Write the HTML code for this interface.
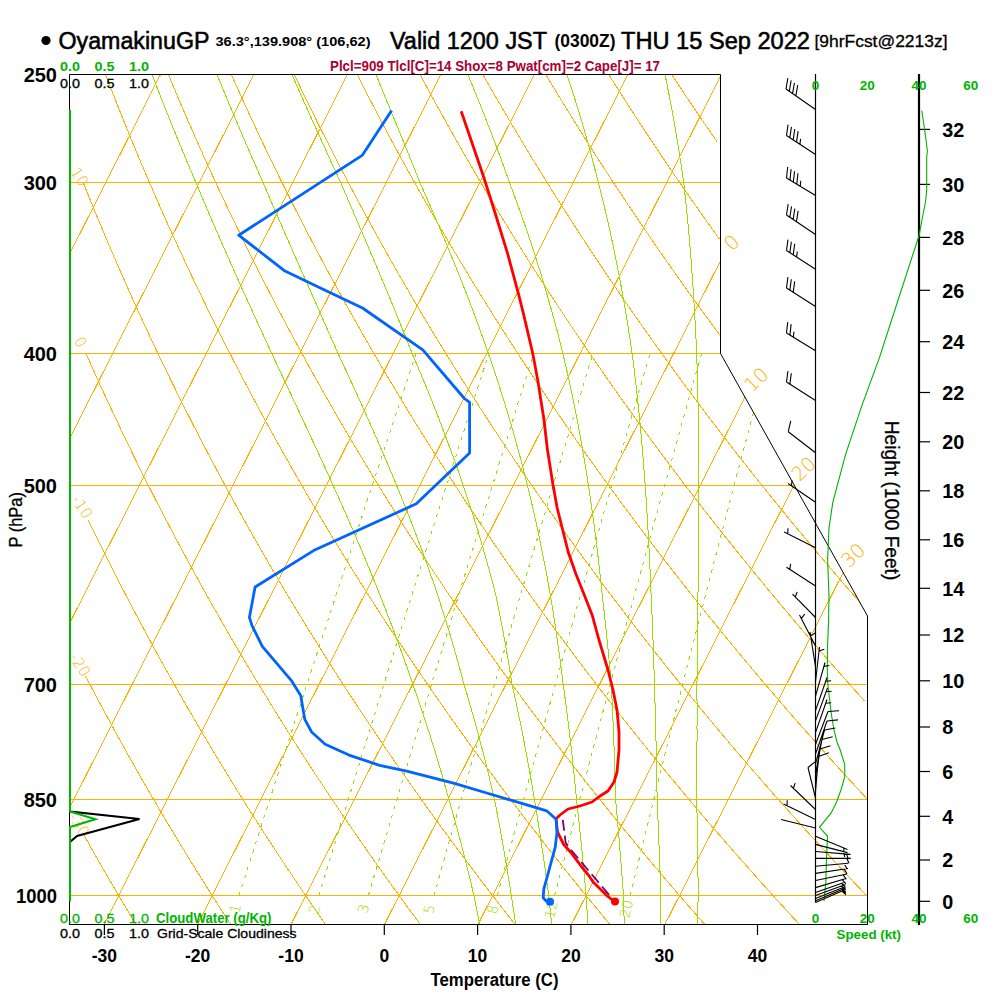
<!DOCTYPE html><html><head><meta charset="utf-8"><style>html,body{margin:0;padding:0;background:#fff;}svg{display:block}</style></head><body>
<svg width="1000" height="1000" viewBox="0 0 1000 1000" font-family="Liberation Sans, Arial, sans-serif">
<rect width="1000" height="1000" fill="#fff"/>
<defs><clipPath id="c"><polygon points="69.5,74.5 720.5,74.5 720.5,353.5 867.5,616.0 867.5,924.5 69.5,924.5"/></clipPath></defs>
<g clip-path="url(#c)" stroke="#FFB000" stroke-width="1" fill="none" shape-rendering="crispEdges"><line x1="69.5" y1="182.5" x2="720.5" y2="182.5"/><line x1="69.5" y1="353.5" x2="720.5" y2="353.5"/><line x1="69.5" y1="485.5" x2="794.42" y2="485.5"/><line x1="69.5" y1="684.5" x2="867.5" y2="684.5"/><line x1="69.5" y1="799.5" x2="867.5" y2="799.5"/><line x1="69.5" y1="895.5" x2="867.5" y2="895.5"/><line x1="-269.88" y1="924.5" x2="160.47" y2="74.5"/><line x1="-176.4" y1="924.5" x2="253.95" y2="74.5"/><line x1="-82.92" y1="924.5" x2="347.43" y2="74.5"/><line x1="10.56" y1="924.5" x2="440.91" y2="74.5"/><line x1="104.04" y1="924.5" x2="534.39" y2="74.5"/><line x1="197.52" y1="924.5" x2="627.87" y2="74.5"/><line x1="291" y1="924.5" x2="721.35" y2="74.5"/><line x1="384.48" y1="924.5" x2="814.83" y2="74.5"/><line x1="477.96" y1="924.5" x2="908.31" y2="74.5"/><line x1="571.44" y1="924.5" x2="1001.79" y2="74.5"/><line x1="664.92" y1="924.5" x2="1095.27" y2="74.5"/><polyline points="135.96,924.46 132.54,918.79 129.1,913.07 125.65,907.29 122.18,901.46 118.69,895.56 115.18,889.61 111.66,883.6 108.13,877.53 104.57,871.39 101,865.19 97.41,858.92 93.81,852.59 90.18,846.18 86.54,839.71 82.88,833.17"/><polyline points="230.76,924.46 227.07,918.79 223.37,913.07 219.66,907.29 215.92,901.46 212.17,895.56 208.4,889.61 204.61,883.6 200.8,877.53 196.97,871.39 193.12,865.19 189.25,858.92 185.37,852.59 181.46,846.18 177.53,839.71 173.59,833.17 169.62,826.55 165.63,819.86 161.62,813.09 157.58,806.25 153.53,799.32 149.45,792.31 145.35,785.22 141.23,778.04 137.09,770.77 132.92,763.42 128.72,755.97 124.5,748.42 120.26,740.78 115.99,733.04 111.7,725.2 107.38,717.25 103.04,709.19 98.67,701.02 94.27,692.74 89.84,684.34 85.39,675.82"/><polyline points="325.55,924.46 321.61,918.79 317.65,913.07 313.67,907.29 309.67,901.46 305.65,895.56 301.61,889.61 297.55,883.6 293.47,877.53 289.36,871.39 285.24,865.19 281.1,858.92 276.93,852.59 272.74,846.18 268.53,839.71 264.29,833.17 260.04,826.55 255.76,819.86 251.45,813.09 247.12,806.25 242.77,799.32 238.39,792.31 233.99,785.22 229.56,778.04 225.1,770.77 220.62,763.42 216.11,755.97 211.58,748.42 207.02,740.78 202.43,733.04 197.81,725.2 193.16,717.25 188.48,709.19 183.77,701.02 179.04,692.74 174.27,684.34 169.47,675.82 164.64,667.17 159.77,658.4 154.88,649.5 149.94,640.45 144.98,631.27 139.98,621.95 134.95,612.47 129.88,602.84 124.77,593.05 119.62,583.1 114.44,572.98 109.22,562.68 103.96,552.2 98.66,541.52 93.32,530.66 87.94,519.59"/><polyline points="420.34,924.46 416.14,918.79 411.92,913.07 407.68,907.29 403.41,901.46 399.13,895.56 394.82,889.61 390.49,883.6 386.14,877.53 381.76,871.39 377.36,865.19 372.94,858.92 368.49,852.59 364.02,846.18 359.52,839.71 355,833.17 350.46,826.55 345.88,819.86 341.28,813.09 336.66,806.25 332.01,799.32 327.33,792.31 322.62,785.22 317.89,778.04 313.12,770.77 308.33,763.42 303.51,755.97 298.65,748.42 293.77,740.78 288.86,733.04 283.91,725.2 278.93,717.25 273.92,709.19 268.88,701.02 263.8,692.74 258.69,684.34 253.54,675.82 248.36,667.17 243.15,658.4 237.89,649.5 232.6,640.45 227.27,631.27 221.9,621.95 216.49,612.47 211.04,602.84 205.55,593.05 200.02,583.1 194.45,572.98 188.83,562.68 183.17,552.2 177.46,541.52 171.71,530.66 165.91,519.59 160.06,508.31 154.17,496.81 148.22,485.08 142.22,473.12 136.17,460.91 130.07,448.44 123.91,435.7 117.7,422.69 111.43,409.38 105.1,395.76 98.71,381.83 92.26,367.56 85.75,352.94"/><polyline points="515.13,924.46 510.67,918.79 506.19,913.07 501.69,907.29 497.16,901.46 492.61,895.56 488.03,889.61 483.43,883.6 478.81,877.53 474.16,871.39 469.48,865.19 464.78,858.92 460.05,852.59 455.3,846.18 450.52,839.71 445.71,833.17 440.87,826.55 436.01,819.86 431.12,813.09 426.2,806.25 421.25,799.32 416.27,792.31 411.25,785.22 406.21,778.04 401.14,770.77 396.03,763.42 390.9,755.97 385.73,748.42 380.52,740.78 375.29,733.04 370.01,725.2 364.71,717.25 359.36,709.19 353.98,701.02 348.57,692.74 343.11,684.34 337.62,675.82 332.09,667.17 326.52,658.4 320.91,649.5 315.25,640.45 309.56,631.27 303.82,621.95 298.04,612.47 292.21,602.84 286.34,593.05 280.42,583.1 274.46,572.98 268.44,562.68 262.38,552.2 256.27,541.52 250.1,530.66 243.88,519.59 237.61,508.31 231.29,496.81 224.9,485.08 218.47,473.12 211.97,460.91 205.41,448.44 198.79,435.7 192.11,422.69 185.36,409.38 178.55,395.76 171.67,381.83 164.72,367.56 157.7,352.94 150.61,337.94 143.44,322.56 136.2,306.77 128.88,290.54 121.48,273.86 114,256.69 106.43,239.01 98.78,220.79 91.04,201.99 83.21,182.57"/><polyline points="609.93,924.46 605.21,918.79 600.47,913.07 595.7,907.29 590.91,901.46 586.09,895.56 581.24,889.61 576.37,883.6 571.48,877.53 566.55,871.39 561.6,865.19 556.62,858.92 551.61,852.59 546.58,846.18 541.51,839.71 536.42,833.17 531.29,826.55 526.14,819.86 520.95,813.09 515.73,806.25 510.49,799.32 505.2,792.31 499.89,785.22 494.54,778.04 489.16,770.77 483.74,763.42 478.29,755.97 472.8,748.42 467.28,740.78 461.72,733.04 456.12,725.2 450.48,717.25 444.81,709.19 439.09,701.02 433.33,692.74 427.54,684.34 421.7,675.82 415.82,667.17 409.89,658.4 403.92,649.5 397.91,640.45 391.85,631.27 385.74,621.95 379.59,612.47 373.38,602.84 367.13,593.05 360.82,583.1 354.46,572.98 348.05,562.68 341.59,552.2 335.07,541.52 328.49,530.66 321.86,519.59 315.16,508.31 308.41,496.81 301.59,485.08 294.71,473.12 287.76,460.91 280.75,448.44 273.67,435.7 266.52,422.69 259.3,409.38 252,395.76 244.63,381.83 237.18,367.56 229.65,352.94 222.04,337.94 214.35,322.56 206.57,306.77 198.7,290.54 190.74,273.86 182.68,256.69 174.54,239.01 166.29,220.79 157.94,201.99 149.48,182.57 140.92,162.49 132.25,141.71 123.46,120.18 114.56,97.83 105.54,74.6"/><polyline points="704.72,924.46 699.74,918.79 694.74,913.07 689.71,907.29 684.65,901.46 679.57,895.56 674.46,889.61 669.32,883.6 664.15,877.53 658.95,871.39 653.72,865.19 648.46,858.92 643.18,852.59 637.86,846.18 632.51,839.71 627.13,833.17 621.71,826.55 616.27,819.86 610.79,813.09 605.27,806.25 599.72,799.32 594.14,792.31 588.52,785.22 582.87,778.04 577.18,770.77 571.45,763.42 565.68,755.97 559.88,748.42 554.03,740.78 548.15,733.04 542.22,725.2 536.26,717.25 530.25,709.19 524.2,701.02 518.1,692.74 511.96,684.34 505.78,675.82 499.54,667.17 493.27,658.4 486.94,649.5 480.56,640.45 474.14,631.27 467.66,621.95 461.13,612.47 454.55,602.84 447.91,593.05 441.22,583.1 434.47,572.98 427.66,562.68 420.8,552.2 413.87,541.52 406.88,530.66 399.83,519.59 392.71,508.31 385.53,496.81 378.28,485.08 370.95,473.12 363.56,460.91 356.09,448.44 348.55,435.7 340.93,422.69 333.23,409.38 325.45,395.76 317.59,381.83 309.64,367.56 301.6,352.94 293.47,337.94 285.25,322.56 276.93,306.77 268.51,290.54 259.99,273.86 251.37,256.69 242.64,239.01 233.79,220.79 224.83,201.99 215.76,182.57 206.56,162.49 197.23,141.71 187.77,120.18 178.18,97.83 168.45,74.6"/><polyline points="799.51,924.46 794.27,918.79 789.01,913.07 783.72,907.29 778.4,901.46 773.05,895.56 767.67,889.61 762.26,883.6 756.82,877.53 751.34,871.39 745.84,865.19 740.31,858.92 734.74,852.59 729.14,846.18 723.5,839.71 717.83,833.17 712.13,826.55 706.39,819.86 700.62,813.09 694.81,806.25 688.96,799.32 683.08,792.31 677.16,785.22 671.2,778.04 665.19,770.77 659.15,763.42 653.07,755.97 646.95,748.42 640.79,740.78 634.58,733.04 628.33,725.2 622.03,717.25 615.69,709.19 609.3,701.02 602.87,692.74 596.38,684.34 589.85,675.82 583.27,667.17 576.64,658.4 569.96,649.5 563.22,640.45 556.43,631.27 549.58,621.95 542.68,612.47 535.72,602.84 528.7,593.05 521.62,583.1 514.48,572.98 507.28,562.68 500.01,552.2 492.67,541.52 485.27,530.66 477.8,519.59 470.26,508.31 462.65,496.81 454.96,485.08 447.2,473.12 439.36,460.91 431.43,448.44 423.43,435.7 415.34,422.69 407.17,409.38 398.9,395.76 390.55,381.83 382.1,367.56 373.55,352.94 364.9,337.94 356.15,322.56 347.3,306.77 338.33,290.54 329.25,273.86 320.05,256.69 310.74,239.01 301.3,220.79 291.73,201.99 282.03,182.57 272.19,162.49 262.21,141.71 252.08,120.18 241.8,97.83 231.36,74.6"/><polyline points="866.53,895.56 860.88,889.61 855.2,883.6 849.49,877.53 843.74,871.39 837.96,865.19 832.15,858.92 826.3,852.59 820.42,846.18 814.5,839.71 808.54,833.17 802.55,826.55 796.52,819.86 790.45,813.09 784.35,806.25 778.2,799.32 772.02,792.31 765.79,785.22 759.52,778.04 753.21,770.77 746.86,763.42 740.47,755.97 734.02,748.42 727.54,740.78 721.01,733.04 714.43,725.2 707.81,717.25 701.13,709.19 694.41,701.02 687.63,692.74 680.81,684.34 673.93,675.82 667,667.17 660.01,658.4 652.97,649.5 645.87,640.45 638.72,631.27 631.5,621.95 624.22,612.47 616.89,602.84 609.48,593.05 602.02,583.1 594.49,572.98 586.89,562.68 579.22,552.2 571.48,541.52 563.66,530.66 555.78,519.59 547.81,508.31 539.77,496.81 531.65,485.08 523.44,473.12 515.15,460.91 506.78,448.44 498.31,435.7 489.75,422.69 481.1,409.38 472.35,395.76 463.51,381.83 454.56,367.56 445.5,352.94 436.33,337.94 427.05,322.56 417.66,306.77 408.14,290.54 398.51,273.86 388.74,256.69 378.84,239.01 368.8,220.79 358.63,201.99 348.3,182.57 337.82,162.49 327.19,141.71 316.39,120.18 305.42,97.83 294.27,74.6"/><polyline points="867.44,799.32 860.95,792.31 854.42,785.22 847.85,778.04 841.23,770.77 834.57,763.42 827.86,755.97 821.1,748.42 814.29,740.78 807.44,733.04 800.53,725.2 793.58,717.25 786.57,709.19 779.51,701.02 772.4,692.74 765.23,684.34 758.01,675.82 750.73,667.17 743.39,658.4 735.99,649.5 728.53,640.45 721.01,631.27 713.42,621.95 705.77,612.47 698.05,602.84 690.27,593.05 682.42,583.1 674.49,572.98 666.5,562.68 658.43,552.2 650.28,541.52 642.05,530.66 633.75,519.59 625.36,508.31 616.89,496.81 608.33,485.08 599.69,473.12 590.95,460.91 582.12,448.44 573.19,435.7 564.17,422.69 555.04,409.38 545.81,395.76 536.47,381.83 527.01,367.56 517.45,352.94 507.76,337.94 497.96,322.56 488.02,306.77 477.96,290.54 467.76,273.86 457.42,256.69 446.94,239.01 436.31,220.79 425.52,201.99 414.57,182.57 403.46,162.49 392.17,141.71 380.69,120.18 369.03,97.83 357.18,74.6"/><polyline points="864.62,701.02 857.17,692.74 849.66,684.34 842.08,675.82 834.45,667.17 826.76,658.4 819,649.5 811.18,640.45 803.3,631.27 795.34,621.95 787.32,612.47 779.22,602.84 771.06,593.05 762.82,583.1 754.5,572.98 746.11,562.68 737.64,552.2 729.08,541.52 720.44,530.66 711.72,519.59 702.91,508.31 694.01,496.81 685.02,485.08 675.93,473.12 666.75,460.91 657.46,448.44 648.07,435.7 638.58,422.69 628.97,409.38 619.26,395.76 609.43,381.83 599.47,367.56 589.4,352.94 579.19,337.94 568.86,322.56 558.39,306.77 547.78,290.54 537.02,273.86 526.11,256.69 515.04,239.01 503.82,220.79 492.42,201.99 480.84,182.57 469.09,162.49 457.14,141.71 445,120.18 432.65,97.83 420.08,74.6"/><polyline points="860.39,602.84 851.84,593.05 843.22,583.1 834.51,572.98 825.72,562.68 816.84,552.2 807.88,541.52 798.83,530.66 789.69,519.59 780.46,508.31 771.13,496.81 761.7,485.08 752.18,473.12 742.54,460.91 732.8,448.44 722.95,435.7 712.99,422.69 702.91,409.38 692.71,395.76 682.38,381.83 671.93,367.56 661.35,352.94 650.63,337.94 639.76,322.56 628.75,306.77 617.59,290.54 606.28,273.86 594.79,256.69 583.15,239.01 571.32,220.79 559.31,201.99 547.12,182.57 534.72,162.49 522.12,141.71 509.31,120.18 496.27,97.83 482.99,74.6"/><polyline points="722.06,337.94 710.67,322.56 699.12,306.77 687.41,290.54 675.53,273.86 663.48,256.69 651.25,239.01 638.83,220.79 626.21,201.99 613.39,182.57 600.36,162.49 587.1,141.71 573.61,120.18 559.89,97.83 545.9,74.6"/><polyline points="719.35,239.01 706.33,220.79 693.11,201.99 679.66,182.57 665.99,162.49 652.08,141.71 637.92,120.18 623.5,97.83 608.81,74.6"/><polyline points="717.06,141.71 702.23,120.18 687.12,97.83 671.72,74.6"/></g>
<g clip-path="url(#c)" stroke="#96E000" stroke-width="1" fill="none" shape-rendering="crispEdges"><polyline points="479.66,924.46 479.12,921.63 478.57,918.79 478.01,915.94 477.45,913.07 476.88,910.19 476.3,907.29 475.71,904.38 475.12,901.46 474.52,898.52 473.91,895.56 473.22,892.6 472.52,889.61 471.81,886.61 471.1,883.6 470.37,880.57 469.64,877.53 468.89,874.47 468.14,871.39 467.38,868.3 466.6,865.19 465.82,862.06 465.03,858.92 464.23,855.76 463.42,852.59 462.59,849.39 461.76,846.18 460.92,842.96 460.06,839.71 459.19,836.45 458.32,833.17 457.43,829.87 456.52,826.55 455.61,823.22 454.68,819.86 453.74,816.49 452.79,813.09 451.83,809.68 450.85,806.25 449.86,802.79 448.85,799.32 447.9,795.83 446.92,792.31 445.94,788.78 444.94,785.22 443.93,781.64 442.9,778.04 441.85,774.42 440.79,770.77 439.72,767.11 438.63,763.42 437.52,759.71 436.39,755.97 435.25,752.21 434.09,748.42 432.91,744.62 431.71,740.78 430.5,736.93 429.26,733.04 428.01,729.13 426.74,725.2 425.45,721.24 424.13,717.25 422.8,713.23 421.44,709.19 420.07,705.12 418.67,701.02 417.25,696.9 415.8,692.74 414.33,688.56 412.84,684.34 411.41,680.1 409.95,675.82 408.47,671.51 406.96,667.17 405.42,662.8 403.87,658.4 402.28,653.96 400.67,649.5 399.03,644.99 397.36,640.45 395.67,635.88 393.95,631.27 392.2,626.63 390.41,621.95 388.6,617.23 386.76,612.47 384.89,607.68 382.99,602.84 381.05,597.97 379.09,593.05 377.12,588.1 375.11,583.1 373.07,578.06 371,572.98 368.89,567.85 366.75,562.68 364.58,557.46 362.37,552.2 360.12,546.88 357.84,541.52 355.52,536.12 353.16,530.66 350.77,525.15 348.34,519.59 345.87,513.98 343.37,508.31 340.83,502.59 338.24,496.81 335.62,490.97 332.96,485.08 330.27,479.13 327.53,473.12 324.75,467.04 321.93,460.91 319.08,454.71 316.18,448.44 313.25,442.11 310.27,435.7 307.25,429.23 304.2,422.69 301.1,416.07 297.97,409.38 294.79,402.61 291.58,395.76 288.33,388.84 285.03,381.83 281.7,374.74 278.33,367.56 274.92,360.29 271.47,352.94 268.04,345.49 264.56,337.94 261.06,330.3 257.51,322.56 253.93,314.72 250.31,306.77 246.65,298.71 242.96,290.54 239.23,282.26 235.47,273.86 231.67,265.34 227.83,256.69 223.96,247.92 220.06,239.01 216.12,229.97 212.15,220.79 208.14,211.46 204.1,201.99 200.03,192.36 195.92,182.57 191.68,172.62 187.41,162.49 183.11,152.19 178.77,141.71 174.4,131.04 169.99,120.18 165.55,109.11 161.07,97.83 156.56,86.33 152.02,74.6"/><polyline points="515.63,924.46 515.22,921.63 514.81,918.79 514.39,915.94 513.97,913.07 513.54,910.19 513.1,907.29 512.66,904.38 512.22,901.46 511.76,898.52 511.3,895.56 510.85,892.6 510.39,889.61 509.92,886.61 509.45,883.6 508.97,880.57 508.48,877.53 507.99,874.47 507.49,871.39 506.98,868.3 506.47,865.19 505.94,862.06 505.41,858.92 504.88,855.76 504.33,852.59 503.78,849.39 503.22,846.18 502.65,842.96 502.07,839.71 501.48,836.45 500.89,833.17 500.28,829.87 499.67,826.55 499.05,823.22 498.42,819.86 497.77,816.49 497.12,813.09 496.46,809.68 495.79,806.25 495.11,802.79 494.41,799.32 493.61,795.83 492.79,792.31 491.97,788.78 491.13,785.22 490.27,781.64 489.41,778.04 488.53,774.42 487.64,770.77 486.73,767.11 485.81,763.42 484.88,759.71 483.93,755.97 482.97,752.21 481.99,748.42 481,744.62 479.99,740.78 478.96,736.93 477.92,733.04 476.86,729.13 475.79,725.2 474.69,721.24 473.58,717.25 472.45,713.23 471.3,709.19 470.13,705.12 468.95,701.02 467.74,696.9 466.51,692.74 465.26,688.56 463.99,684.34 462.87,680.1 461.73,675.82 460.57,671.51 459.38,667.17 458.17,662.8 456.94,658.4 455.69,653.96 454.41,649.5 453.11,644.99 451.78,640.45 450.42,635.88 449.04,631.27 447.63,626.63 446.2,621.95 444.73,617.23 443.24,612.47 441.72,607.68 440.17,602.84 438.59,597.97 436.97,593.05 435.3,588.1 433.59,583.1 431.85,578.06 430.08,572.98 428.27,567.85 426.42,562.68 424.54,557.46 422.62,552.2 420.67,546.88 418.67,541.52 416.64,536.12 414.57,530.66 412.45,525.15 410.3,519.59 408.1,513.98 405.86,508.31 403.58,502.59 401.25,496.81 398.88,490.97 396.46,485.08 394,479.13 391.49,473.12 388.93,467.04 386.33,460.91 383.68,454.71 380.98,448.44 378.23,442.11 375.43,435.7 372.58,429.23 369.68,422.69 366.73,416.07 363.72,409.38 360.67,402.61 357.56,395.76 354.4,388.84 351.19,381.83 347.93,374.74 344.61,367.56 341.24,360.29 337.82,352.94 334.55,345.49 331.22,337.94 327.84,330.3 324.42,322.56 320.94,314.72 317.42,306.77 313.84,298.71 310.22,290.54 306.55,282.26 302.83,273.86 299.06,265.34 295.24,256.69 291.38,247.92 287.47,239.01 283.52,229.97 279.52,220.79 275.47,211.46 271.38,201.99 267.24,192.36 263.06,182.57 258.66,172.62 254.22,162.49 249.73,152.19 245.19,141.71 240.61,131.04 235.98,120.18 231.32,109.11 226.6,97.83 221.85,86.33 217.05,74.6"/><polyline points="551.7,924.46 551.42,921.63 551.13,918.79 550.84,915.94 550.55,913.07 550.25,910.19 549.95,907.29 549.64,904.38 549.33,901.46 549.02,898.52 548.7,895.56 548.31,892.6 547.91,889.61 547.51,886.61 547.1,883.6 546.69,880.57 546.28,877.53 545.86,874.47 545.43,871.39 545,868.3 544.56,865.19 544.11,862.06 543.66,858.92 543.21,855.76 542.75,852.59 542.28,849.39 541.8,846.18 541.32,842.96 540.83,839.71 540.34,836.45 539.83,833.17 539.32,829.87 538.81,826.55 538.28,823.22 537.75,819.86 537.21,816.49 536.66,813.09 536.11,809.68 535.54,806.25 534.97,802.79 534.39,799.32 533.81,795.83 533.22,792.31 532.61,788.78 532,785.22 531.38,781.64 530.75,778.04 530.12,774.42 529.47,770.77 528.8,767.11 528.13,763.42 527.45,759.71 526.76,755.97 526.05,752.21 525.34,748.42 524.61,744.62 523.87,740.78 523.12,736.93 522.35,733.04 521.57,729.13 520.78,725.2 519.97,721.24 519.15,717.25 518.32,713.23 517.47,709.19 516.6,705.12 515.72,701.02 514.83,696.9 513.91,692.74 512.98,688.56 512.04,684.34 511.38,680.1 510.71,675.82 510.02,671.51 509.31,667.17 508.59,662.8 507.85,658.4 507.09,653.96 506.32,649.5 505.52,644.99 504.71,640.45 503.87,635.88 503.01,631.27 502.14,626.63 501.24,621.95 500.32,617.23 499.37,612.47 498.41,607.68 497.41,602.84 496.4,597.97 495.36,593.05 494.07,588.1 492.75,583.1 491.4,578.06 490.02,572.98 488.61,567.85 487.17,562.68 485.69,557.46 484.18,552.2 482.64,546.88 481.06,541.52 479.44,536.12 477.79,530.66 476.1,525.15 474.36,519.59 472.59,513.98 470.78,508.31 468.92,502.59 467.02,496.81 465.08,490.97 463.09,485.08 461.05,479.13 458.96,473.12 456.83,467.04 454.65,460.91 452.41,454.71 450.12,448.44 447.78,442.11 445.38,435.7 442.93,429.23 440.42,422.69 437.85,416.07 435.22,409.38 432.54,402.61 429.79,395.76 426.97,388.84 424.1,381.83 421.16,374.74 418.15,367.56 415.08,360.29 411.94,352.94 409.01,345.49 406.02,337.94 402.96,330.3 399.84,322.56 396.64,314.72 393.38,306.77 390.06,298.71 386.66,290.54 383.2,282.26 379.67,273.86 376.07,265.34 372.41,256.69 368.67,247.92 364.87,239.01 361,229.97 357.07,220.79 353.07,211.46 349,201.99 344.87,192.36 340.68,182.57 336.11,172.62 331.47,162.49 326.77,152.19 322,141.71 317.16,131.04 312.26,120.18 307.29,109.11 302.26,97.83 297.16,86.33 292.01,74.6"/><polyline points="587.88,924.46 587.72,921.63 587.55,918.79 587.37,915.94 587.2,913.07 587.02,910.19 586.84,907.29 586.66,904.38 586.47,901.46 586.28,898.52 586.09,895.56 585.83,892.6 585.57,889.61 585.3,886.61 585.03,883.6 584.76,880.57 584.48,877.53 584.2,874.47 583.92,871.39 583.63,868.3 583.34,865.19 583.04,862.06 582.74,858.92 582.44,855.76 582.13,852.59 581.82,849.39 581.5,846.18 581.18,842.96 580.85,839.71 580.52,836.45 580.18,833.17 579.84,829.87 579.49,826.55 579.14,823.22 578.78,819.86 578.42,816.49 578.05,813.09 577.68,809.68 577.3,806.25 576.91,802.79 576.52,799.32 576.19,795.83 575.85,792.31 575.5,788.78 575.15,785.22 574.79,781.64 574.43,778.04 574.06,774.42 573.68,770.77 573.29,767.11 572.9,763.42 572.5,759.71 572.09,755.97 571.68,752.21 571.25,748.42 570.82,744.62 570.38,740.78 569.94,736.93 569.48,733.04 569.01,729.13 568.54,725.2 568.05,721.24 567.56,717.25 567.05,713.23 566.54,709.19 566.02,705.12 565.48,701.02 564.93,696.9 564.38,692.74 563.81,688.56 563.22,684.34 562.7,680.1 562.17,675.82 561.62,671.51 561.06,667.17 560.48,662.8 559.9,658.4 559.3,653.96 558.68,649.5 558.05,644.99 557.4,640.45 556.74,635.88 556.07,631.27 555.37,626.63 554.66,621.95 553.93,617.23 553.19,612.47 552.42,607.68 551.64,602.84 550.83,597.97 550.01,593.05 549.13,588.1 548.23,583.1 547.31,578.06 546.36,572.98 545.39,567.85 544.4,562.68 543.37,557.46 542.33,552.2 541.25,546.88 540.15,541.52 539.02,536.12 537.86,530.66 536.66,525.15 535.44,519.59 534.18,513.98 532.89,508.31 531.56,502.59 530.2,496.81 528.8,490.97 527.36,485.08 525.88,479.13 524.36,473.12 522.79,467.04 521.18,460.91 519.53,454.71 517.83,448.44 516.08,442.11 514.28,435.7 512.43,429.23 510.52,422.69 508.56,416.07 506.55,409.38 504.47,402.61 502.34,395.76 500.14,388.84 497.88,381.83 495.55,374.74 493.15,367.56 490.69,360.29 488.15,352.94 485.56,345.49 482.9,337.94 480.16,330.3 477.34,322.56 474.44,314.72 471.45,306.77 468.38,298.71 465.23,290.54 461.98,282.26 458.64,273.86 455.21,265.34 451.69,256.69 448.07,247.92 444.36,239.01 440.54,229.97 436.63,220.79 432.62,211.46 428.5,201.99 424.29,192.36 419.97,182.57 415.99,172.62 411.92,162.49 407.75,152.19 403.49,141.71 399.14,131.04 394.69,120.18 390.15,109.11 385.52,97.83 380.79,86.33 375.98,74.6"/><polyline points="624.2,924.46 624.14,921.63 624.07,918.79 624,915.94 623.93,913.07 623.86,910.19 623.79,907.29 623.71,904.38 623.64,901.46 623.56,898.52 623.48,895.56 623.26,892.6 623.04,889.61 622.82,886.61 622.59,883.6 622.36,880.57 622.13,877.53 621.89,874.47 621.66,871.39 621.42,868.3 621.17,865.19 620.93,862.06 620.68,858.92 620.43,855.76 620.17,852.59 619.91,849.39 619.65,846.18 619.39,842.96 619.12,839.71 618.85,836.45 618.57,833.17 618.29,829.87 618.01,826.55 617.72,823.22 617.43,819.86 617.14,816.49 616.84,813.09 616.54,809.68 616.24,806.25 615.93,802.79 615.61,799.32 615.53,795.83 615.44,792.31 615.35,788.78 615.25,785.22 615.15,781.64 615.05,778.04 614.94,774.42 614.83,770.77 614.72,767.11 614.6,763.42 614.48,759.71 614.36,755.97 614.23,752.21 614.09,748.42 613.96,744.62 613.81,740.78 613.67,736.93 613.51,733.04 613.36,729.13 613.19,725.2 613.02,721.24 612.85,717.25 612.67,713.23 612.49,709.19 612.3,705.12 612.1,701.02 611.9,696.9 611.69,692.74 611.47,688.56 611.25,684.34 610.88,680.1 610.51,675.82 610.12,671.51 609.73,667.17 609.33,662.8 608.92,658.4 608.5,653.96 608.07,649.5 607.63,644.99 607.18,640.45 606.71,635.88 606.24,631.27 605.76,626.63 605.26,621.95 604.75,617.23 604.23,612.47 603.7,607.68 603.15,602.84 602.59,597.97 602.01,593.05 601.5,588.1 600.98,583.1 600.44,578.06 599.89,572.98 599.32,567.85 598.73,562.68 598.13,557.46 597.51,552.2 596.87,546.88 596.21,541.52 595.53,536.12 594.83,530.66 594.11,525.15 593.36,519.59 592.6,513.98 591.81,508.31 590.99,502.59 590.15,496.81 589.29,490.97 588.39,485.08 587.47,479.13 586.52,473.12 585.53,467.04 584.52,460.91 583.47,454.71 582.39,448.44 581.27,442.11 580.11,435.7 578.92,429.23 577.68,422.69 576.4,416.07 575.08,409.38 573.71,402.61 572.3,395.76 570.84,388.84 569.32,381.83 567.75,374.74 566.13,367.56 564.44,360.29 562.7,352.94 560.85,345.49 558.93,337.94 556.94,330.3 554.88,322.56 552.74,314.72 550.53,306.77 548.24,298.71 545.86,290.54 543.4,282.26 540.84,273.86 538.2,265.34 535.45,256.69 532.6,247.92 529.65,239.01 526.58,229.97 523.41,220.79 520.12,211.46 516.7,201.99 513.17,192.36 509.5,182.57 505.97,172.62 502.31,162.49 498.52,152.19 494.59,141.71 490.51,131.04 486.3,120.18 481.94,109.11 477.43,97.83 472.77,86.33 467.97,74.6"/><polyline points="660.66,924.46 660.69,921.63 660.71,918.79 660.73,915.94 660.75,913.07 660.78,910.19 660.8,907.29 660.82,904.38 660.84,901.46 660.85,898.52 660.87,895.56 660.77,892.6 660.67,889.61 660.56,886.61 660.46,883.6 660.35,880.57 660.24,877.53 660.13,874.47 660.02,871.39 659.91,868.3 659.79,865.19 659.67,862.06 659.56,858.92 659.44,855.76 659.32,852.59 659.19,849.39 659.07,846.18 658.94,842.96 658.82,839.71 658.69,836.45 658.56,833.17 658.42,829.87 658.29,826.55 658.15,823.22 658.01,819.86 657.87,816.49 657.72,813.09 657.58,809.68 657.43,806.25 657.28,802.79 657.13,799.32 657.07,795.83 657.02,792.31 656.96,788.78 656.9,785.22 656.84,781.64 656.78,778.04 656.71,774.42 656.65,770.77 656.58,767.11 656.5,763.42 656.43,759.71 656.35,755.97 656.27,752.21 656.19,748.42 656.11,744.62 656.02,740.78 655.93,736.93 655.84,733.04 655.74,729.13 655.64,725.2 655.54,721.24 655.43,717.25 655.32,713.23 655.21,709.19 655.09,705.12 654.97,701.02 654.85,696.9 654.72,692.74 654.59,688.56 654.45,684.34 654.33,680.1 654.2,675.82 654.07,671.51 653.94,667.17 653.8,662.8 653.66,658.4 653.51,653.96 653.35,649.5 653.19,644.99 653.03,640.45 652.86,635.88 652.68,631.27 652.5,626.63 652.31,621.95 652.11,617.23 651.91,612.47 651.7,607.68 651.48,602.84 651.25,597.97 651.02,593.05 650.82,588.1 650.62,583.1 650.41,578.06 650.19,572.98 649.96,567.85 649.72,562.68 649.47,557.46 649.21,552.2 648.95,546.88 648.67,541.52 648.37,536.12 648.07,530.66 647.76,525.15 647.43,519.59 647.09,513.98 646.73,508.31 646.36,502.59 645.98,496.81 645.58,490.97 645.16,485.08 644.73,479.13 644.28,473.12 643.81,467.04 643.32,460.91 642.81,454.71 642.29,448.44 641.73,442.11 641.16,435.7 640.56,429.23 639.94,422.69 639.29,416.07 638.62,409.38 637.91,402.61 637.18,395.76 636.42,388.84 635.62,381.83 634.79,374.74 633.92,367.56 633.02,360.29 632.07,352.94 630.98,345.49 629.84,337.94 628.65,330.3 627.41,322.56 626.12,314.72 624.78,306.77 623.38,298.71 621.92,290.54 620.4,282.26 618.81,273.86 617.14,265.34 615.41,256.69 613.6,247.92 611.7,239.01 609.72,229.97 607.65,220.79 605.48,211.46 603.21,201.99 600.83,192.36 598.34,182.57 595.84,172.62 593.22,162.49 590.47,152.19 587.58,141.71 584.55,131.04 581.36,120.18 578.02,109.11 574.51,97.83 570.83,86.33 566.97,74.6"/><polyline points="697.26,924.46 697.36,921.63 697.46,918.79 697.56,915.94 697.66,913.07 697.76,910.19 697.86,907.29 697.96,904.38 698.06,901.46 698.16,898.52 698.26,895.56 698.22,892.6 698.18,889.61 698.14,886.61 698.1,883.6 698.06,880.57 698.02,877.53 697.97,874.47 697.93,871.39 697.89,868.3 697.84,865.19 697.79,862.06 697.75,858.92 697.7,855.76 697.65,852.59 697.61,849.39 697.56,846.18 697.51,842.96 697.46,839.71 697.4,836.45 697.35,833.17 697.3,829.87 697.25,826.55 697.19,823.22 697.14,819.86 697.08,816.49 697.02,813.09 696.96,809.68 696.9,806.25 696.84,802.79 696.78,799.32 696.8,795.83 696.82,792.31 696.84,788.78 696.86,785.22 696.87,781.64 696.89,778.04 696.9,774.42 696.92,770.77 696.93,767.11 696.94,763.42 696.96,759.71 696.97,755.97 696.98,752.21 696.99,748.42 696.99,744.62 697,740.78 697.01,736.93 697.01,733.04 697.01,729.13 697.02,725.2 697.02,721.24 697.02,717.25 697.01,713.23 697.01,709.19 697.01,705.12 697,701.02 696.99,696.9 696.98,692.74 696.97,688.56 696.96,684.34 697.03,680.1 697.1,675.82 697.16,671.51 697.23,667.17 697.29,662.8 697.35,658.4 697.42,653.96 697.47,649.5 697.53,644.99 697.59,640.45 697.64,635.88 697.69,631.27 697.74,626.63 697.79,621.95 697.83,617.23 697.87,612.47 697.91,607.68 697.95,602.84 697.98,597.97 698.01,593.05 698.09,588.1 698.17,583.1 698.25,578.06 698.32,572.98 698.39,567.85 698.46,562.68 698.52,557.46 698.58,552.2 698.63,546.88 698.68,541.52 698.73,536.12 698.77,530.66 698.8,525.15 698.84,519.59 698.86,513.98 698.88,508.31 698.9,502.59 698.9,496.81 698.91,490.97 698.9,485.08 698.89,479.13 698.87,473.12 698.84,467.04 698.8,460.91 698.76,454.71 698.7,448.44 698.64,442.11 698.56,435.7 698.48,429.23 698.38,422.69 698.27,416.07 698.15,409.38 698.02,402.61 697.87,395.76 697.7,388.84 697.53,381.83 697.33,374.74 697.12,367.56 696.89,360.29 696.63,352.94 696.3,345.49 695.94,337.94 695.56,330.3 695.16,322.56 694.73,314.72 694.27,306.77 693.78,298.71 693.26,290.54 692.7,282.26 692.11,273.86 691.48,265.34 690.82,256.69 690.11,247.92 689.35,239.01 688.55,229.97 687.7,220.79 686.79,211.46 685.82,201.99 684.79,192.36 683.7,182.57 682.27,172.62 680.75,162.49 679.16,152.19 677.47,141.71 675.68,131.04 673.79,120.18 671.78,109.11 669.66,97.83 667.41,86.33 665.02,74.6"/></g>
<g clip-path="url(#c)" stroke="#96E000" stroke-width="1" fill="none" stroke-dasharray="3.5 5.5" shape-rendering="crispEdges"><polyline points="239.01,895.56 240.9,889.61 242.82,883.6 244.75,877.53 246.71,871.39 248.69,865.19 250.69,858.92 252.72,852.59 254.76,846.18 256.84,839.71 258.93,833.17 261.05,826.55 263.2,819.86 265.37,813.09 267.57,806.25 269.79,799.32 272.05,792.31 274.33,785.22 276.64,778.04 278.98,770.77 281.36,763.42 283.76,755.97 286.2,748.42 288.67,740.78 291.17,733.04 293.71,725.2 296.29,717.25 298.9,709.19 301.55,701.02 304.24,692.74 306.97,684.34 309.74,675.82 312.56,667.17 315.42,658.4 318.32,649.5 321.27,640.45 324.27,631.27 327.32,621.95 330.42,612.47 333.58,602.84 336.78,593.05 340.05,583.1 343.38,572.98 346.76,562.68 350.21,552.2 353.73,541.52 357.31,530.66 360.96,519.59 364.69,508.31 368.5,496.81 372.38,485.08 376.34,473.12 380.4,460.91 384.54,448.44 388.77,435.7 393.11,422.69 397.54,409.38 402.09,395.76 406.74,381.83 411.52,367.56 416.42,352.94"/><polyline points="318.91,895.56 320.71,889.61 322.54,883.6 324.39,877.53 326.26,871.39 328.15,865.19 330.06,858.92 332,852.59 333.95,846.18 335.93,839.71 337.94,833.17 339.96,826.55 342.01,819.86 344.09,813.09 346.19,806.25 348.32,799.32 350.47,792.31 352.66,785.22 354.87,778.04 357.11,770.77 359.38,763.42 361.68,755.97 364.01,748.42 366.37,740.78 368.77,733.04 371.2,725.2 373.67,717.25 376.17,709.19 378.71,701.02 381.28,692.74 383.9,684.34 386.55,675.82 389.25,667.17 391.99,658.4 394.77,649.5 397.6,640.45 400.48,631.27 403.4,621.95 406.38,612.47 409.4,602.84 412.48,593.05 415.61,583.1 418.81,572.98 422.06,562.68 425.37,552.2 428.74,541.52 432.18,530.66 435.69,519.59 439.27,508.31 442.92,496.81 446.65,485.08 450.47,473.12 454.36,460.91 458.34,448.44 462.41,435.7 466.58,422.69 470.85,409.38 475.22,395.76 479.7,381.83 484.29,367.56 489.01,352.94"/><polyline points="368.42,895.56 370.17,889.61 371.95,883.6 373.74,877.53 375.55,871.39 377.39,865.19 379.24,858.92 381.12,852.59 383.02,846.18 384.94,839.71 386.88,833.17 388.85,826.55 390.84,819.86 392.85,813.09 394.89,806.25 396.96,799.32 399.05,792.31 401.17,785.22 403.32,778.04 405.49,770.77 407.69,763.42 409.93,755.97 412.19,748.42 414.49,740.78 416.82,733.04 419.18,725.2 421.58,717.25 424.01,709.19 426.47,701.02 428.98,692.74 431.52,684.34 434.1,675.82 436.72,667.17 439.39,658.4 442.09,649.5 444.84,640.45 447.64,631.27 450.49,621.95 453.38,612.47 456.32,602.84 459.32,593.05 462.37,583.1 465.47,572.98 468.63,562.68 471.86,552.2 475.14,541.52 478.49,530.66 481.91,519.59 485.39,508.31 488.95,496.81 492.59,485.08 496.3,473.12 500.09,460.91 503.97,448.44 507.94,435.7 512,422.69 516.16,409.38 520.42,395.76 524.79,381.83 529.27,367.56 533.87,352.94"/><polyline points="433.92,895.56 435.6,889.61 437.29,883.6 439.01,877.53 440.75,871.39 442.5,865.19 444.28,858.92 446.08,852.59 447.9,846.18 449.74,839.71 451.6,833.17 453.49,826.55 455.39,819.86 457.33,813.09 459.28,806.25 461.26,799.32 463.27,792.31 465.3,785.22 467.36,778.04 469.45,770.77 471.57,763.42 473.71,755.97 475.88,748.42 478.09,740.78 480.33,733.04 482.59,725.2 484.89,717.25 487.23,709.19 489.6,701.02 492.01,692.74 494.45,684.34 496.93,675.82 499.45,667.17 502.01,658.4 504.61,649.5 507.26,640.45 509.95,631.27 512.68,621.95 515.47,612.47 518.3,602.84 521.18,593.05 524.12,583.1 527.11,572.98 530.15,562.68 533.25,552.2 536.42,541.52 539.64,530.66 542.94,519.59 546.3,508.31 549.72,496.81 553.23,485.08 556.81,473.12 560.47,460.91 564.21,448.44 568.04,435.7 571.95,422.69 575.97,409.38 580.08,395.76 584.3,381.83 588.62,367.56 593.06,352.94"/><polyline points="497.39,895.56 499,889.61 500.62,883.6 502.26,877.53 503.92,871.39 505.6,865.19 507.3,858.92 509.02,852.59 510.76,846.18 512.52,839.71 514.3,833.17 516.11,826.55 517.93,819.86 519.78,813.09 521.66,806.25 523.55,799.32 525.47,792.31 527.42,785.22 529.39,778.04 531.39,770.77 533.42,763.42 535.48,755.97 537.56,748.42 539.67,740.78 541.82,733.04 543.99,725.2 546.2,717.25 548.44,709.19 550.71,701.02 553.02,692.74 555.36,684.34 557.74,675.82 560.16,667.17 562.62,658.4 565.12,649.5 567.66,640.45 570.25,631.27 572.87,621.95 575.55,612.47 578.27,602.84 581.04,593.05 583.86,583.1 586.73,572.98 589.66,562.68 592.65,552.2 595.69,541.52 598.8,530.66 601.96,519.59 605.2,508.31 608.5,496.81 611.87,485.08 615.32,473.12 618.84,460.91 622.45,448.44 626.13,435.7 629.91,422.69 633.78,409.38 637.74,395.76 641.81,381.83 645.98,367.56 650.27,352.94"/><polyline points="554.69,895.56 556.23,889.61 557.78,883.6 559.35,877.53 560.94,871.39 562.55,865.19 564.18,858.92 565.83,852.59 567.49,846.18 569.18,839.71 570.89,833.17 572.62,826.55 574.37,819.86 576.14,813.09 577.94,806.25 579.76,799.32 581.6,792.31 583.47,785.22 585.36,778.04 587.28,770.77 589.22,763.42 591.2,755.97 593.2,748.42 595.23,740.78 597.28,733.04 599.37,725.2 601.49,717.25 603.64,709.19 605.83,701.02 608.05,692.74 610.3,684.34 612.59,675.82 614.91,667.17 617.28,658.4 619.68,649.5 622.12,640.45 624.61,631.27 627.14,621.95 629.71,612.47 632.33,602.84 635,593.05 637.71,583.1 640.48,572.98 643.3,562.68 646.18,552.2 649.11,541.52 652.1,530.66 655.15,519.59 658.27,508.31 661.45,496.81 664.71,485.08 668.03,473.12 671.43,460.91 674.91,448.44 678.47,435.7 682.11,422.69 685.85,409.38 689.68,395.76 693.6,381.83 697.63,367.56 701.77,352.94"/><polyline points="630.23,895.56 631.67,889.61 633.13,883.6 634.61,877.53 636.1,871.39 637.62,865.19 639.15,858.92 640.7,852.59 642.26,846.18 643.85,839.71 645.46,833.17 647.09,826.55 648.73,819.86 650.4,813.09 652.1,806.25 653.81,799.32 655.55,792.31 657.31,785.22 659.09,778.04 660.9,770.77 662.73,763.42 664.6,755.97 666.48,748.42 668.4,740.78 670.34,733.04 672.31,725.2 674.31,717.25 676.35,709.19 678.41,701.02 680.5,692.74 682.63,684.34 684.8,675.82 687,667.17 689.23,658.4 691.51,649.5 693.82,640.45 696.17,631.27 698.57,621.95 701,612.47 703.48,602.84 706.01,593.05 708.58,583.1 711.21,572.98 713.88,562.68 716.61,552.2 719.39,541.52 722.23,530.66 725.13,519.59 728.09,508.31 731.11,496.81 734.2,485.08 737.36,473.12 740.59,460.91 743.9,448.44 747.29,435.7 750.75,422.69 754.31,409.38 757.95,395.76 761.7,381.83 765.54,367.56 769.48,352.94"/></g>
<text x="79.5" y="177" font-size="15" fill="#FFB000" text-anchor="middle" transform="rotate(57 79.5 177)" dominant-baseline="central" font-family="DejaVu Sans" font-weight="200">10</text>
<text x="80.4" y="342.2" font-size="15" fill="#FFB000" text-anchor="middle" transform="rotate(57 80.4 342.2)" dominant-baseline="central" font-family="DejaVu Sans" font-weight="200">0</text>
<text x="82" y="507" font-size="15" fill="#FFB000" text-anchor="middle" transform="rotate(57 82 507)" dominant-baseline="central" font-family="DejaVu Sans" font-weight="200">-10</text>
<text x="80" y="665" font-size="15" fill="#FFB000" text-anchor="middle" transform="rotate(57 80 665)" dominant-baseline="central" font-family="DejaVu Sans" font-weight="200">-20</text>
<text x="79" y="825" font-size="15" fill="#FFB000" text-anchor="middle" transform="rotate(57 79 825)" dominant-baseline="central" font-family="DejaVu Sans" font-weight="200">-30</text>
<text x="732" y="242.8" font-size="19.5" fill="#FFB000" text-anchor="middle" transform="rotate(-44 732 242.8)" dominant-baseline="central" font-family="DejaVu Sans" font-weight="200">0</text>
<text x="756.4" y="379.8" font-size="19.5" fill="#FFB000" text-anchor="middle" transform="rotate(-44 756.4 379.8)" dominant-baseline="central" font-family="DejaVu Sans" font-weight="200">10</text>
<text x="804" y="469" font-size="19.5" fill="#FFB000" text-anchor="middle" transform="rotate(-44 804 469)" dominant-baseline="central" font-family="DejaVu Sans" font-weight="200">20</text>
<text x="853.3" y="555.5" font-size="19.5" fill="#FFB000" text-anchor="middle" transform="rotate(-44 853.3 555.5)" dominant-baseline="central" font-family="DejaVu Sans" font-weight="200">30</text>
<text x="235.2" y="908.6" font-size="14" fill="#96E000" text-anchor="middle" transform="rotate(-78 235.2 908.6)" dominant-baseline="central" font-family="DejaVu Sans" font-weight="200">1</text>
<text x="314.4" y="909.4" font-size="14" fill="#96E000" text-anchor="middle" transform="rotate(-78 314.4 909.4)" dominant-baseline="central" font-family="DejaVu Sans" font-weight="200">2</text>
<text x="363.2" y="908.6" font-size="14" fill="#96E000" text-anchor="middle" transform="rotate(-78 363.2 908.6)" dominant-baseline="central" font-family="DejaVu Sans" font-weight="200">3</text>
<text x="429" y="909" font-size="14" fill="#96E000" text-anchor="middle" transform="rotate(-78 429 909)" dominant-baseline="central" font-family="DejaVu Sans" font-weight="200">5</text>
<text x="492.5" y="909.4" font-size="14" fill="#96E000" text-anchor="middle" transform="rotate(-78 492.5 909.4)" dominant-baseline="central" font-family="DejaVu Sans" font-weight="200">8</text>
<text x="551" y="909.5" font-size="14" fill="#96E000" text-anchor="middle" transform="rotate(-78 551 909.5)" dominant-baseline="central" font-family="DejaVu Sans" font-weight="200">12</text>
<text x="626.3" y="908.8" font-size="14" fill="#96E000" text-anchor="middle" transform="rotate(-78 626.3 908.8)" dominant-baseline="central" font-family="DejaVu Sans" font-weight="200">20</text>
<polyline points="562.8,819.8 565.6,842.6 570.4,849.2 613.1,899.6" fill="none" stroke="#780078" stroke-width="1.8" stroke-dasharray="11 5"/>
<polyline points="461.2,111.2 483.6,176.8 494.8,212 507.6,253.6 518.8,295.2 523.6,314.4 532.6,352.8 538,381.6 544,420 547.3,448.6 552.8,483.8 557.2,508 562.7,530 568.2,552 575.9,574 584.7,596 592.4,615.8 599,640 602,650 608,670 613,690 617,710 619,732 619,750 617,772 614,782 608,791 600,796 592,802 580,806 568,809 560,815 556.1,818.8 556.8,826 557.3,831 558.7,834.5 563.7,844.5 571.6,853.3 581,866 588.2,874.8 593.1,881.9 599.7,888.5 606.3,895.1 611.8,899.5 615,901" fill="none" stroke="#FF0000" stroke-width="2.8" stroke-linejoin="round"/>
<polyline points="391.6,110.4 362.5,155.1 238.7,235.2 285,271.1 318.8,287.2 362.5,308 422.8,349.8 464.4,398.5 469.6,402.4 469.6,453.1 416.3,503.8 313.6,550.6 255.1,587 249.4,617.4 252.1,625.9 262.3,646.3 291.2,680.3 300.7,695.6 304.8,719.4 311.6,732 325.2,744.2 349,755.1 379.6,765.3 406.8,771.1 454.4,783.3 488.4,793.5 535.2,807.4 546.6,810.8 556.1,819.2 557,832.1 555.2,847.3 548.5,872 543.8,889.1 543.2,897.7 546.6,901.5" fill="none" stroke="#0064FF" stroke-width="2.8" stroke-linejoin="round"/>
<circle cx="615" cy="901.5" r="4" fill="#FF0000"/>
<circle cx="550" cy="901.8" r="4" fill="#0064FF"/>
<polyline points="69.5,924.5 69.5,74.5 720.5,74.5 720.5,353.5 867.5,616.0 867.5,924.5" fill="none" stroke="#000" stroke-width="1"/>
<line x1="69.0" y1="924.5" x2="868.0" y2="924.5" stroke="#000" stroke-width="1.2"/>
<line x1="104.4" y1="924.5" x2="104.4" y2="935" stroke="#000" stroke-width="1.2"/>
<text x="104.4" y="962.3" font-size="17.5" fill="#000" text-anchor="middle" font-weight="bold">-30</text>
<line x1="197.7" y1="924.5" x2="197.7" y2="935" stroke="#000" stroke-width="1.2"/>
<text x="197.7" y="962.3" font-size="17.5" fill="#000" text-anchor="middle" font-weight="bold">-20</text>
<line x1="291" y1="924.5" x2="291" y2="935" stroke="#000" stroke-width="1.2"/>
<text x="291" y="962.3" font-size="17.5" fill="#000" text-anchor="middle" font-weight="bold">-10</text>
<line x1="384.3" y1="924.5" x2="384.3" y2="935" stroke="#000" stroke-width="1.2"/>
<text x="384.3" y="962.3" font-size="17.5" fill="#000" text-anchor="middle" font-weight="bold">0</text>
<line x1="477.6" y1="924.5" x2="477.6" y2="935" stroke="#000" stroke-width="1.2"/>
<text x="477.6" y="962.3" font-size="17.5" fill="#000" text-anchor="middle" font-weight="bold">10</text>
<line x1="570.9" y1="924.5" x2="570.9" y2="935" stroke="#000" stroke-width="1.2"/>
<text x="570.9" y="962.3" font-size="17.5" fill="#000" text-anchor="middle" font-weight="bold">20</text>
<line x1="664.2" y1="924.5" x2="664.2" y2="935" stroke="#000" stroke-width="1.2"/>
<text x="664.2" y="962.3" font-size="17.5" fill="#000" text-anchor="middle" font-weight="bold">30</text>
<line x1="757.5" y1="924.5" x2="757.5" y2="935" stroke="#000" stroke-width="1.2"/>
<text x="757.5" y="962.3" font-size="17.5" fill="#000" text-anchor="middle" font-weight="bold">40</text>
<polyline points="70,110 70,811.5 139.5,819 77,836 70,842 70,901" fill="none" stroke="#000" stroke-width="2"/>
<polyline points="70,110 70,811.5 95.5,819.3 70,827 70,901.5" fill="none" stroke="#00B400" stroke-width="2"/>
<line x1="815.5" y1="74" x2="815.5" y2="902.5" stroke="#000" stroke-width="1.2"/>
<line x1="919" y1="74" x2="919" y2="925" stroke="#000" stroke-width="2.2"/>
<line x1="919" y1="129.4" x2="930" y2="129.4" stroke="#000" stroke-width="1.2"/>
<text x="942.3" y="136.7" font-size="19.8" fill="#000" font-weight="bold">32</text>
<line x1="919" y1="184.4" x2="930" y2="184.4" stroke="#000" stroke-width="1.2"/>
<text x="942.3" y="191.7" font-size="19.8" fill="#000" font-weight="bold">30</text>
<line x1="919" y1="237.4" x2="930" y2="237.4" stroke="#000" stroke-width="1.2"/>
<text x="942.3" y="244.7" font-size="19.8" fill="#000" font-weight="bold">28</text>
<line x1="919" y1="290.3" x2="930" y2="290.3" stroke="#000" stroke-width="1.2"/>
<text x="942.3" y="297.6" font-size="19.8" fill="#000" font-weight="bold">26</text>
<line x1="919" y1="341.7" x2="930" y2="341.7" stroke="#000" stroke-width="1.2"/>
<text x="942.3" y="349" font-size="19.8" fill="#000" font-weight="bold">24</text>
<line x1="919" y1="392.5" x2="930" y2="392.5" stroke="#000" stroke-width="1.2"/>
<text x="942.3" y="399.8" font-size="19.8" fill="#000" font-weight="bold">22</text>
<line x1="919" y1="441.8" x2="930" y2="441.8" stroke="#000" stroke-width="1.2"/>
<text x="942.3" y="449.1" font-size="19.8" fill="#000" font-weight="bold">20</text>
<line x1="919" y1="490.8" x2="930" y2="490.8" stroke="#000" stroke-width="1.2"/>
<text x="942.3" y="498.1" font-size="19.8" fill="#000" font-weight="bold">18</text>
<line x1="919" y1="539.8" x2="930" y2="539.8" stroke="#000" stroke-width="1.2"/>
<text x="942.3" y="547.1" font-size="19.8" fill="#000" font-weight="bold">16</text>
<line x1="919" y1="588.3" x2="930" y2="588.3" stroke="#000" stroke-width="1.2"/>
<text x="942.3" y="595.6" font-size="19.8" fill="#000" font-weight="bold">14</text>
<line x1="919" y1="635" x2="930" y2="635" stroke="#000" stroke-width="1.2"/>
<text x="942.3" y="642.3" font-size="19.8" fill="#000" font-weight="bold">12</text>
<line x1="919" y1="680.8" x2="930" y2="680.8" stroke="#000" stroke-width="1.2"/>
<text x="942.3" y="688.1" font-size="19.8" fill="#000" font-weight="bold">10</text>
<line x1="919" y1="727" x2="930" y2="727" stroke="#000" stroke-width="1.2"/>
<text x="942.3" y="734.3" font-size="19.8" fill="#000" font-weight="bold">8</text>
<line x1="919" y1="771.5" x2="930" y2="771.5" stroke="#000" stroke-width="1.2"/>
<text x="942.3" y="778.8" font-size="19.8" fill="#000" font-weight="bold">6</text>
<line x1="919" y1="816.3" x2="930" y2="816.3" stroke="#000" stroke-width="1.2"/>
<text x="942.3" y="823.6" font-size="19.8" fill="#000" font-weight="bold">4</text>
<line x1="919" y1="860" x2="930" y2="860" stroke="#000" stroke-width="1.2"/>
<text x="942.3" y="867.3" font-size="19.8" fill="#000" font-weight="bold">2</text>
<line x1="919" y1="901.3" x2="930" y2="901.3" stroke="#000" stroke-width="1.2"/>
<text x="942.3" y="908.6" font-size="19.8" fill="#000" font-weight="bold">0</text>
<polyline points="921.7,110.5 924.7,130 927.4,151 926.7,157 926.7,190 925.5,202 922.5,217 919.2,235 917.6,240 896.8,304 879.2,358.4 861.6,406.4 845.6,454.4 832.8,502.4 829,528 827.6,560 829,596 828.5,623 827.6,644.7 827.3,671.7 828,686 831.2,713 833.9,730 837,742 840.2,750 844.7,764.2 844.7,776.8 841.1,789.5 836.6,802 831.2,812.9 819.5,827.3 827.6,836.3 826.7,852.5 825.8,883.2 824,901.2" fill="none" stroke="#00B400" stroke-width="1.1"/>
<path d="M815.5 109.5L786 89M786 89L787.87 78.16M789.28 91.28L791.16 80.44M792.57 93.57L794.44 82.73M795.85 95.85L797.73 85.01M815.5 154.5L786.5 135.5M786.5 135.5L788.07 124.61M789.85 137.69L791.42 126.81M793.19 139.88L794.77 129M796.54 142.08L798.11 131.19M799.88 144.27L800.67 138.83M815.5 195.5L786.5 178M786.5 178L787.67 167.06M789.92 180.07L791.1 169.13M793.35 182.13L794.52 171.2M796.77 184.2L797.94 173.26M800.2 186.27L800.78 180.8M815.5 234.5L786.5 215M786.5 215L788.21 204.13M789.82 217.23L791.52 206.36M793.14 219.46L794.84 208.6M796.46 221.7L798.16 210.83M815.5 269.2L786.5 250.5M786.5 250.5L788 239.6M789.86 252.67L791.36 241.77M793.22 254.84L794.72 243.94M796.59 257L797.33 251.55M815.5 306.5L786.5 288M786.5 288L787.94 277.09M789.87 290.15L791.31 279.25M793.24 292.3L794.69 281.4M815.5 350.7L786.5 333M786.5 333L787.73 322.07M789.91 335.08L791.14 324.15M793.33 337.17L793.94 331.7M815.5 400.5L786.5 382M786.5 382L787.94 371.09M789.87 384.15L791.31 373.25M815.5 452.7L788.3 431.7M788.3 431.7L790.71 420.97M815.5 502.2L788 483.5M791.31 485.75L792.19 480.32M815.5 547.7L784.2 532M787.78 533.79L787.93 528.3M815.5 586L786.5 567.2M789.86 569.38L790.62 563.93M815.5 617.5L792.5 594.2M795.31 597.05L797.22 591.89M815.5 646L799.5 615M801.33 618.55L804.7 614.2M815.5 666.6L810 632M810.63 635.95L815.19 632.87M815.5 681.8L819.5 647M819.04 650.97L824.26 649.23M815.5 696.2L825 662.5M823.91 666.35L829.34 665.47M815.5 710.6L827 677.5M825.69 681.28L831.16 680.72M815.5 720.9L827.5 688M826.13 691.76L831.61 691.28M815.5 732.6L827 699.5M825.69 703.28L831.16 702.72M815.5 744.2L828 711.5M828 711.5L838.97 710.72M815.5 754L827 721M827 721L837.94 719.89M815.5 763.8L824.5 730M824.5 730L835.33 728.07M815.5 773.9L822 739.5M822 739.5L832.66 736.78M815.5 783.7L820 749M820 749L830.48 745.67M815.5 791.4L818.5 756.5M818.5 756.5L828.83 752.72M815.5 798L808 767.5M808 767.5L816.57 760.61M815.5 809.5L790.5 785.5M793.39 788.27L795.16 783.06M815.5 819.5L783.5 804M787.1 805.74L787.18 800.24M815.5 828L781 819.5M815.5 836.3L847.5 849.5M843.8 847.97L844.05 853.47M815.5 844.4L847.5 852.6M843.63 851.61L844.64 857.01M815.5 851.5L850.5 854.4M846.51 854.07L848.42 859.23M815.5 858.4L850.8 858.4M846.8 858.4L849.12 863.38M815.5 866.3L848.1 863.3M844.12 863.67L846.89 868.42M815.5 873.4L848 868.5M844.04 869.1L847.09 873.68M815.5 880.5L847 874M843.08 874.81L846.37 879.22M815.5 887.6L846 878.5M842.17 879.64L845.82 883.76M815.5 892.5L845.5 882M841.72 883.32L845.57 887.26M815.5 895.5L845.5 884.5M841.74 885.88L845.64 889.76M815.5 898.5L845.5 886.5M841.79 887.99L845.8 891.75M815.5 900.7L845.5 888M841.82 889.56L845.9 893.24M815.5 902.4L845.5 889.5M841.83 891.08L845.93 894.74" fill="none" stroke="#000" stroke-width="1.1"/>
<circle cx="46" cy="40.5" r="4.6" fill="#000"/>
<text x="58.5" y="48.6" font-size="23" fill="#000" textLength="151" lengthAdjust="spacingAndGlyphs" stroke="#000" stroke-width="0.55">OyamakinuGP</text>
<text x="215.5" y="45.6" font-size="13.4" fill="#000" font-weight="bold" textLength="155" lengthAdjust="spacingAndGlyphs">36.3°,139.908° (106,62)</text>
<text x="390" y="48.6" font-size="23" fill="#000" textLength="157" lengthAdjust="spacingAndGlyphs" stroke="#000" stroke-width="0.55">Valid 1200 JST</text>
<text x="554.5" y="46.8" font-size="17.5" fill="#000" font-weight="bold" textLength="61" lengthAdjust="spacingAndGlyphs">(0300Z)</text>
<text x="621" y="48.6" font-size="23" fill="#000" textLength="189" lengthAdjust="spacingAndGlyphs" stroke="#000" stroke-width="0.55">THU 15 Sep 2022</text>
<text x="814.5" y="46.8" font-size="16.5" fill="#000" textLength="133" lengthAdjust="spacingAndGlyphs" stroke="#000" stroke-width="0.3">[9hrFcst@2213z]</text>
<text x="330" y="70.8" font-size="15" fill="#AA0032" font-weight="bold" textLength="330" lengthAdjust="spacingAndGlyphs">Plcl=909 Tlcl[C]=14 Shox=8 Pwat[cm]=2 Cape[J]= 17</text>
<text x="70" y="70.6" font-size="12" fill="#00B400" text-anchor="middle" font-weight="bold" textLength="20" lengthAdjust="spacingAndGlyphs">0.0</text>
<text x="70" y="88" font-size="12.5" fill="#000" text-anchor="middle" textLength="20" lengthAdjust="spacingAndGlyphs" stroke="#000" stroke-width="0.3">0.0</text>
<text x="70" y="923" font-size="13" fill="#00B400" text-anchor="middle" textLength="20" lengthAdjust="spacingAndGlyphs" stroke="#00B400" stroke-width="0.3">0.0</text>
<text x="70" y="938.3" font-size="12.5" fill="#000" text-anchor="middle" textLength="20" lengthAdjust="spacingAndGlyphs" stroke="#000" stroke-width="0.3">0.0</text>
<text x="104.5" y="70.6" font-size="12" fill="#00B400" text-anchor="middle" font-weight="bold" textLength="20" lengthAdjust="spacingAndGlyphs">0.5</text>
<text x="104.5" y="88" font-size="12.5" fill="#000" text-anchor="middle" textLength="20" lengthAdjust="spacingAndGlyphs" stroke="#000" stroke-width="0.3">0.5</text>
<text x="104.5" y="923" font-size="13" fill="#00B400" text-anchor="middle" textLength="20" lengthAdjust="spacingAndGlyphs" stroke="#00B400" stroke-width="0.3">0.5</text>
<text x="104.5" y="938.3" font-size="12.5" fill="#000" text-anchor="middle" textLength="20" lengthAdjust="spacingAndGlyphs" stroke="#000" stroke-width="0.3">0.5</text>
<text x="139" y="70.6" font-size="12" fill="#00B400" text-anchor="middle" font-weight="bold" textLength="20" lengthAdjust="spacingAndGlyphs">1.0</text>
<text x="139" y="88" font-size="12.5" fill="#000" text-anchor="middle" textLength="20" lengthAdjust="spacingAndGlyphs" stroke="#000" stroke-width="0.3">1.0</text>
<text x="139" y="923" font-size="13" fill="#00B400" text-anchor="middle" textLength="20" lengthAdjust="spacingAndGlyphs" stroke="#00B400" stroke-width="0.3">1.0</text>
<text x="139" y="938.3" font-size="12.5" fill="#000" text-anchor="middle" textLength="20" lengthAdjust="spacingAndGlyphs" stroke="#000" stroke-width="0.3">1.0</text>
<text x="156" y="923" font-size="14.5" fill="#00B400" font-weight="bold" textLength="115.5" lengthAdjust="spacingAndGlyphs">CloudWater (g/Kg)</text>
<text x="157" y="938.3" font-size="13.2" fill="#000" textLength="139.5" lengthAdjust="spacingAndGlyphs" stroke="#000" stroke-width="0.3">Grid-Scale Cloudiness</text>
<text x="57" y="81.5" font-size="20" fill="#000" text-anchor="end" font-weight="bold">250</text>
<text x="57" y="189.5" font-size="20" fill="#000" text-anchor="end" font-weight="bold">300</text>
<text x="57" y="360.5" font-size="20" fill="#000" text-anchor="end" font-weight="bold">400</text>
<text x="57" y="492.5" font-size="20" fill="#000" text-anchor="end" font-weight="bold">500</text>
<text x="57" y="691.5" font-size="20" fill="#000" text-anchor="end" font-weight="bold">700</text>
<text x="57" y="806.5" font-size="20" fill="#000" text-anchor="end" font-weight="bold">850</text>
<text x="57" y="902.5" font-size="20" fill="#000" text-anchor="end" font-weight="bold" textLength="41" lengthAdjust="spacingAndGlyphs">1000</text>
<text x="22" y="547.6" font-size="17.7" fill="#000" textLength="55.6" lengthAdjust="spacingAndGlyphs" transform="rotate(-90 22 547.6)" stroke="#000" stroke-width="0.3">P (hPa)</text>
<text x="430.5" y="985.8" font-size="17.5" fill="#000" font-weight="bold" textLength="128" lengthAdjust="spacingAndGlyphs">Temperature (C)</text>
<text x="815.5" y="89.8" font-size="13.5" fill="#00B400" text-anchor="middle" font-weight="bold">0</text>
<text x="815.5" y="923" font-size="13.5" fill="#00B400" text-anchor="middle" font-weight="bold">0</text>
<text x="867.25" y="89.8" font-size="13.5" fill="#00B400" text-anchor="middle" font-weight="bold">20</text>
<text x="867.25" y="923" font-size="13.5" fill="#00B400" text-anchor="middle" font-weight="bold">20</text>
<text x="919" y="89.8" font-size="13.5" fill="#00B400" text-anchor="middle" font-weight="bold">40</text>
<text x="919" y="923" font-size="13.5" fill="#00B400" text-anchor="middle" font-weight="bold">40</text>
<text x="970.75" y="89.8" font-size="13.5" fill="#00B400" text-anchor="middle" font-weight="bold">60</text>
<text x="970.75" y="923" font-size="13.5" fill="#00B400" text-anchor="middle" font-weight="bold">60</text>
<text x="836.5" y="938.6" font-size="13.5" fill="#00B400" font-weight="bold" textLength="64.5" lengthAdjust="spacingAndGlyphs">Speed (kt)</text>
<text x="885" y="420.8" font-size="20.5" fill="#000" textLength="159.5" lengthAdjust="spacingAndGlyphs" transform="rotate(90 885 420.8)" stroke="#000" stroke-width="0.3">Height (1000 Feet)</text>
</svg></body></html>
